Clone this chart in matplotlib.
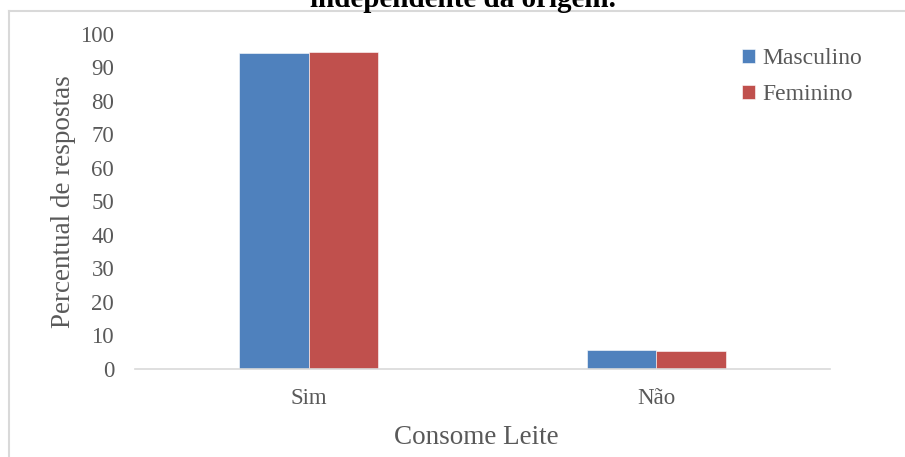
import numpy as np
import matplotlib
matplotlib.use('Agg')
import matplotlib.pyplot as plt
from matplotlib.lines import Line2D

# data
categorias = ['Sim', 'Não']
masculino = [94.2, 5.8]
feminino = [94.5, 5.5]
series = ['Masculino', 'Feminino']
yticks = list(range(0, 101, 10))

azul = '#4f81bd'
vermelho = '#c0504d'
cinza = '#595959'
borda = '#d9d9d9'

plt.rcParams['font.family'] = ['Liberation Serif', 'DejaVu Serif']

fig = plt.figure(figsize=(9.05, 4.57), dpi=100)
ax = fig.add_axes([135/905, (457-369)/457, (830-135)/905, (369-33.5)/457])

x = np.arange(len(categorias))
w = 0.2
ax.bar(x - w/2, masculino, w, color=azul, label=series[0], edgecolor='white', linewidth=0.4)
ax.bar(x + w/2, feminino, w, color=vermelho, label=series[1], edgecolor='white', linewidth=0.4)

ax.set_xlim(-0.5, 1.5)
ax.set_ylim(0, 100)
ax.set_yticks(yticks)
ax.set_xticks(x)
ax.set_xticklabels(categorias)
ax.tick_params(length=0, labelsize=16.5, colors=cinza)
ax.tick_params(axis='y', pad=15)
ax.tick_params(axis='x', pad=14)
for s in ['top', 'right', 'left']:
    ax.spines[s].set_visible(False)
ax.spines['bottom'].set_color(borda)
ax.spines['bottom'].set_linewidth(1.2)

ax.set_ylabel('Percentual de respostas', fontsize=19.5, color=cinza, va='center')
ax.yaxis.set_label_coords((63-135)/695, 0.5)
ax.set_xlabel('Consome Leite', fontsize=19.5, color=cinza, va='center')
ax.xaxis.set_label_coords((476-135)/695, (369-438)/335.5)

leg = ax.legend(loc='upper left', bbox_to_anchor=(0.843, 1.02), frameon=False,
                fontsize=17, labelcolor=cinza, handlelength=0.55, handleheight=0.55,
                handletextpad=0.3, labelspacing=0.65)

# moldura do grafico e titulo cortado
fig.add_artist(Line2D([9/905, 1.0], [1 - 11/457, 1 - 11/457], color=borda, lw=1.5))
fig.add_artist(Line2D([9/905, 9/905], [0, 1 - 11/457], color=borda, lw=1.5))
fig.text(463/905, 1 - 7/457, 'independente da origem.', ha='center', va='baseline',
         fontsize=21, fontweight='bold', color='black')

fig.savefig('out.png', dpi=100)
